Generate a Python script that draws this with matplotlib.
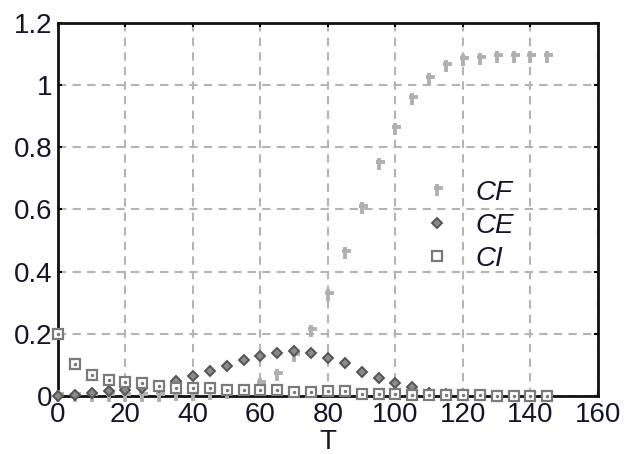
import matplotlib
matplotlib.use("Agg")
import matplotlib.pyplot as plt
from matplotlib.path import Path
from matplotlib.ticker import FormatStrFormatter

T = list(range(0, 150, 5))
CF = [0, 0, 0, 0, 0, 0, 0, 0.002, 0.004, 0.006, 0.01, 0.018, 0.04, 0.068, 0.13,
      0.21, 0.325, 0.46, 0.605, 0.745, 0.86, 0.955, 1.02, 1.06, 1.08, 1.085, 1.09,
      1.09, 1.09, 1.09]
CE = [0, 0.004, 0.01, 0.015, 0.02, 0.025, 0.03, 0.048, 0.064, 0.08, 0.097, 0.116,
      0.129, 0.137, 0.146, 0.137, 0.121, 0.105, 0.078, 0.057, 0.041, 0.028, 0.01,
      0.005, 0.003, 0.002, 0.001, 0.001, 0.001, 0.0]
CI = [0.2, 0.103, 0.068, 0.051, 0.046, 0.041, 0.032, 0.025, 0.027, 0.025, 0.019,
      0.019, 0.019, 0.019, 0.014, 0.014, 0.017, 0.017, 0.005, 0.005, 0.005, 0.004,
      0.003, 0.003, 0.002, 0.002, 0.001, 0.001, 0.001, 0.001]
labels = ["CF", "CE", "CI"]

plt.rcParams['font.family'] = ['Liberation Sans', 'DejaVu Sans']

# odd little "t" marker used for CF
cf_marker = Path([(0, 1), (0, -1), (-0.6, 0.35), (1, 0.35)],
                 [Path.MOVETO, Path.LINETO, Path.MOVETO, Path.LINETO])

fig = plt.figure(figsize=(6.29, 4.54), dpi=100)
ax = fig.add_axes([0.0922, 0.1278, 0.8585, 0.8216])

ax.grid(True, color='#b4b4b4', linestyle=(0, (4, 3)), linewidth=1.5)
ax.set_axisbelow(True)

h_cf, = ax.plot(T, CF, linestyle='none', marker=cf_marker, markersize=8,
                markeredgewidth=2.8, color='#b0b0b0', clip_on=False, zorder=3)
h_ce, = ax.plot(T, CE, linestyle='none', marker='D', markersize=5,
                markerfacecolor='#8a8a8a', markeredgecolor='#555555',
                markeredgewidth=1.4, clip_on=False, zorder=3)
h_ci, = ax.plot(T, CI, linestyle='none', marker='s', markersize=7,
                markerfacecolor='white', markeredgecolor='#7a7a7a',
                markeredgewidth=1.6, clip_on=False, zorder=3)
ax.plot(T, CI, linestyle='none', marker='.', markersize=3, color='#7a7a7a',
        clip_on=False, zorder=3)

ax.set_xlim(0, 160)
ax.set_ylim(0, 1.2)
ax.set_xticks(range(0, 161, 20))
ax.set_yticks([0, 0.2, 0.4, 0.6, 0.8, 1.0, 1.2])
ax.yaxis.set_major_formatter(FormatStrFormatter('%g'))
ax.tick_params(direction='in', length=3, width=1.5, top=True, right=True,
               labelsize=20, labelcolor='#15152a', pad=4)
for s in ax.spines.values():
    s.set_linewidth(2)
    s.set_color('#111111')

ax.set_xlabel("T", fontsize=20, color='#15152a', labelpad=1)

leg = ax.legend([h_cf, h_ce, h_ci], labels, loc='upper left',
                bbox_to_anchor=(0.681, 0.58), frameon=False, borderpad=0,
                borderaxespad=0, handlelength=0.8, handletextpad=1.0,
                labelspacing=0.25, prop={'size': 20, 'style': 'italic'})
for t in leg.get_texts():
    t.set_color('#15152a')

fig.savefig("out.png", dpi=100)
